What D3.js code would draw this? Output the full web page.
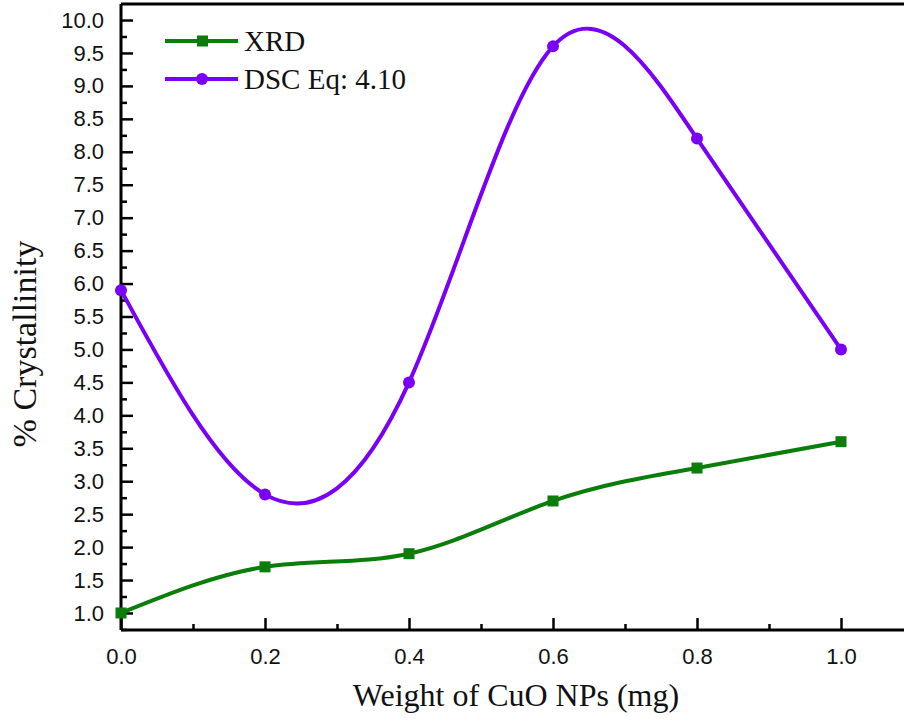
<!DOCTYPE html>
<html><head><meta charset="utf-8">
<script src="https://cdn.jsdelivr.net/npm/d3@7"></script>
<style>body{margin:0;background:#fff}svg{display:block}</style>
</head><body>
<svg id="c" width="904" height="725"></svg>
<script>
const weights = [0.0, 0.2, 0.4, 0.6, 0.8, 1.0];
const xrdValues = [1.0, 1.7, 1.9, 2.7, 3.2, 3.6];
const dscValues = [5.9, 2.8, 4.5, 9.6, 8.2, 5.0];
const seriesNames = ["XRD", "DSC Eq: 4.10"];
const seriesColors = ["#0a7d0a", "#7a00f5"];
const xTicks = [0.0, 0.2, 0.4, 0.6, 0.8, 1.0];
const yTicks = [1.0,1.5,2.0,2.5,3.0,3.5,4.0,4.5,5.0,5.5,6.0,6.5,7.0,7.5,8.0,8.5,9.0,9.5,10.0];

const svg = d3.select("#c");
const plotLeft = 121, plotBottom = 630, plotTop = 4;
const x = d3.scaleLinear().domain([0, 1.1]).range([plotLeft, plotLeft + 792]);
const y = d3.scaleLinear().domain([1.0 - 17/65.8, 10 + 16/65.8]).range([plotBottom, plotTop]);

const tickFont = "'Liberation Sans', Arial, sans-serif";
const serif = "'Liberation Serif', 'Times New Roman', serif";

// frame
svg.append("line").attr("x1", plotLeft).attr("x2", 904).attr("y1", plotTop).attr("y2", plotTop).attr("stroke","#000").attr("stroke-width",3);

// axes
const xAxis = d3.axisBottom(x).tickValues(xTicks).tickSize(-12).tickPadding(18).tickFormat(d3.format(".1f"));
const gx = svg.append("g").attr("transform", `translate(0,${plotBottom})`).call(xAxis);
const xMinor = d3.axisBottom(x).tickValues([0.1,0.3,0.5,0.7,0.9]).tickSize(-6).tickFormat("");
const gxm = svg.append("g").attr("transform", `translate(0,${plotBottom})`).call(xMinor);
const yAxis = d3.axisLeft(y).tickValues(yTicks).tickSize(-12).tickPadding(17).tickFormat(d3.format(".1f"));
const gy = svg.append("g").attr("transform", `translate(${plotLeft},0)`).call(yAxis);
const yMinorVals = d3.range(0.75, 10.2, 0.5);
const gym = svg.append("g").attr("transform", `translate(${plotLeft},0)`).call(d3.axisLeft(y).tickValues(yMinorVals).tickSize(-6).tickFormat(""));

[gx, gxm, gy, gym].forEach(g => {
  g.select(".domain").attr("stroke","#000").attr("stroke-width",3);
  g.selectAll(".tick line").attr("stroke","#000").attr("stroke-width",2.5);
  g.selectAll(".tick text").attr("font-family", tickFont).attr("font-size", 22).attr("fill","#111");
});
gx.select(".domain").attr("d", `M${plotLeft},0H904`);
gy.select(".domain").attr("d", `M0,${plotBottom}V${plotTop}`);
gxm.select(".domain").remove();
gym.select(".domain").remove();

// lines
const seriesData = [xrdValues, dscValues];
const line = d3.line().x((d,i) => x(weights[i])).y(d => y(d)).curve(d3.curveNatural);
seriesData.forEach((vals, k) => {
  svg.append("path").datum(vals).attr("d", line).attr("fill","none")
    .attr("stroke", seriesColors[k]).attr("stroke-width", 4);
});
// markers
svg.append("g").selectAll("rect").data(xrdValues).join("rect")
  .attr("x",(d,i)=>x(weights[i])-5.5).attr("y",d=>y(d)-5.5).attr("width",11).attr("height",11)
  .attr("fill", seriesColors[0]);
svg.append("g").selectAll("circle").data(dscValues).join("circle")
  .attr("cx",(d,i)=>x(weights[i])).attr("cy",d=>y(d)).attr("r",6)
  .attr("fill", seriesColors[1]);

// legend
const legY = [41, 79];
seriesNames.forEach((name, k) => {
  const g = svg.append("g");
  g.append("line").attr("x1",165).attr("x2",238).attr("y1",legY[k]).attr("y2",legY[k])
    .attr("stroke", seriesColors[k]).attr("stroke-width",4);
  if (k === 0) g.append("rect").attr("x",197).attr("y",legY[k]-5.5).attr("width",11).attr("height",11).attr("fill",seriesColors[k]);
  else g.append("circle").attr("cx",202).attr("cy",legY[k]).attr("r",6).attr("fill",seriesColors[k]);
  g.append("text").attr("x",244).attr("y",legY[k]+10).attr("font-family",serif).attr("font-size",29)
    .attr("fill","#111").text(name);
});

// titles
svg.append("text").attr("x", 516).attr("y", 706).attr("text-anchor","middle")
  .attr("font-family", serif).attr("font-size", 32).attr("fill","#111").text("Weight of CuO NPs (mg)");
svg.append("text").attr("transform","translate(36,344) rotate(-90)").attr("text-anchor","middle")
  .attr("font-family", serif).attr("font-size", 34).attr("fill","#111").text("% Crystallinity");
</script>
</body></html>
